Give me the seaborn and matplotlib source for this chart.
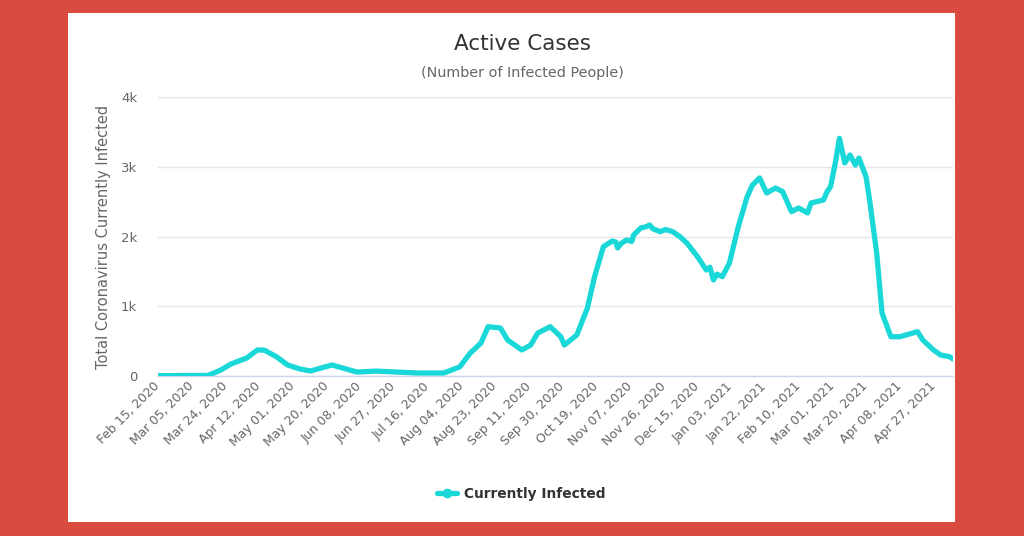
import matplotlib
matplotlib.use("Agg")
import matplotlib.pyplot as plt
import seaborn as sns
import pandas as pd
import numpy as np
from matplotlib.patches import Rectangle
from matplotlib.lines import Line2D

# ---- data ----
start_date = "2020-02-15"
day_offsets = [0, 28, 35, 41, 46, 50, 56, 60, 67, 73, 80, 86, 98, 112, 123, 146, 161,
               170, 176, 182, 186, 193, 197, 205, 210, 214, 221, 227, 229, 236,
               242, 246, 251, 256, 258, 259, 261, 264, 267, 268, 272, 275, 277, 279,
               283, 286, 290, 294, 298, 304, 309, 311,
               313, 315, 318, 322, 327, 332, 335, 339, 343, 348, 352, 357, 361, 366,
               368, 371, 375, 377, 379, 382, 384, 387, 390, 393, 395, 399, 401, 405, 408,
               413, 418, 428, 431, 437, 441, 446, 448]
infected = [5, 8, 80, 170, 220, 258, 373, 370, 272, 158, 100, 72, 158, 57, 70, 43, 43,
            130, 330, 473, 707, 688, 516, 373, 444, 616, 707, 563, 444, 588,
            975, 1424, 1854, 1935, 1920, 1835, 1900, 1950, 1930, 2020, 2122, 2140, 2165, 2110,
            2069, 2100, 2069, 2000, 1907, 1711, 1520, 1560,
            1376, 1460, 1424, 1620, 2140, 2571, 2738, 2839, 2624, 2695,
            2643, 2356, 2409, 2337, 2480, 2499, 2523, 2640, 2714, 3097, 3408, 3054, 3168,
            3025, 3125, 2857, 2523, 1763, 903, 563, 563, 635, 516, 373, 301,
            277, 244]
tick_labels = ["Feb 15, 2020", "Mar 05, 2020", "Mar 24, 2020", "Apr 12, 2020",
               "May 01, 2020", "May 20, 2020", "Jun 08, 2020", "Jun 27, 2020",
               "Jul 16, 2020", "Aug 04, 2020", "Aug 23, 2020", "Sep 11, 2020",
               "Sep 30, 2020", "Oct 19, 2020", "Nov 07, 2020", "Nov 26, 2020",
               "Dec 15, 2020", "Jan 03, 2021", "Jan 22, 2021", "Feb 10, 2021",
               "Mar 01, 2021", "Mar 20, 2021", "Apr 08, 2021", "Apr 27, 2021"]
y_ticks = [0, 1000, 2000, 3000, 4000]
y_tick_labels = ["0", "1k", "2k", "3k", "4k"]
series_name = "Currently Infected"

LINE = "#1ad8d8"

t0 = pd.Timestamp(start_date)
df = pd.DataFrame({"date": t0 + pd.to_timedelta(day_offsets, unit="D"),
                   "value": infected})
tick_dates = [pd.Timestamp(pd.to_datetime(s, format="%b %d, %Y")) for s in tick_labels]

sns.set_style("white")
plt.rcParams["font.family"] = ["DejaVu Sans"]

fig = plt.figure(figsize=(10.24, 5.36), dpi=100)
fig.patch.set_facecolor("#d84b3e")
fig.patches.append(Rectangle((68 / 1024, 1 - 522 / 536), (955 - 68) / 1024,
                             (522 - 13) / 536, transform=fig.transFigure,
                             facecolor="white", edgecolor="none", zorder=-5))

ax = fig.add_axes([158 / 1024, 1 - 376 / 536, (953 - 158) / 1024, (376 - 97) / 536])
ax.set_facecolor("none")
ax.set_zorder(2)

sns.lineplot(data=df, x="date", y="value", ax=ax, color=LINE, linewidth=3.8,
             solid_joinstyle="round", solid_capstyle="round", zorder=3, legend=False)

ax.set_xlim(t0, t0 + pd.Timedelta(days=448))
ax.set_ylim(0, 4000)
ax.set_yticks(y_ticks)
ax.set_yticklabels(y_tick_labels)
ax.set_xticks(tick_dates)
ax.set_xticklabels(tick_labels, rotation=45, ha="right", va="center",
                   rotation_mode="anchor")
ax.tick_params(axis="x", length=0, pad=6, labelsize=9, labelcolor="#666666")
ax.tick_params(axis="y", length=0, pad=15, labelsize=9.5, labelcolor="#666666")

for s in ["top", "right", "left"]:
    ax.spines[s].set_visible(False)
ax.spines["bottom"].set_color("#ccd6eb")
ax.spines["bottom"].set_linewidth(1)
ax.grid(axis="y", color="#e6e6e6", linewidth=1)
ax.grid(axis="x", visible=False)
ax.set_axisbelow(True)

ax.set_xlabel("")
ax.set_ylabel("Total Coronavirus Currently Infected", fontsize=10.5,
              color="#666666", labelpad=7)

fig.text(522 / 1024, 1 - 44 / 536, "Active Cases", ha="center", va="center",
         fontsize=15.5, color="#333333")
fig.text(522 / 1024, 1 - 73 / 536, "(Number of Infected People)", ha="center",
         va="center", fontsize=10.4, color="#666666")

handle = Line2D([0], [0], color=LINE, linewidth=3.8, marker="o", markersize=6,
                markerfacecolor=LINE, markeredgecolor=LINE)
fig.legend([handle], [series_name], loc="center", bbox_to_anchor=(521 / 1024, 1 - 494 / 536),
           frameon=False, prop={"weight": "bold", "size": 9.9}, labelcolor="#333333",
           handlelength=1.5, handletextpad=0.5)

fig.savefig("out.png", dpi=100, facecolor=fig.get_facecolor())
